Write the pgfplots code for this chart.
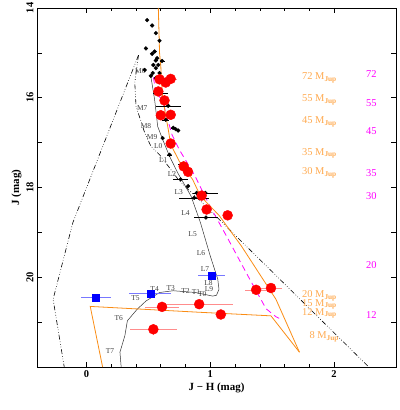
\documentclass[border=0pt]{standalone}
\usepackage{fontspec}
\setmainfont{Liberation Serif}
\usepackage{pgfplots}
\pgfplotsset{compat=1.18}
\usepackage{pgfplotstable}

\definecolor{isoorange}{RGB}{250,140,20}
\definecolor{masstext}{RGB}{255,170,80}
\definecolor{mag}{RGB}{255,0,255}
\definecolor{errred}{RGB}{255,140,140}
\definecolor{errblue}{RGB}{120,120,255}

% field objects (small black dots)
\pgfplotstableread{
x     y      ex
0.49  14.27  0
0.53  14.39  0
0.56  14.56  0
0.59  14.73  0
0.48  14.90  0
0.55  14.97  0
0.53  15.02  0
0.61  15.18  0.02
0.57  15.12  0
0.56  15.17  0
0.54  15.27  0
0.58  15.27  0
0.47  15.38  0
0.56  15.34  0
0.535 15.45  0
0.59  15.45  0
0.52  15.51  0
0.56  15.56  0
0.60  15.90  0.06
0.63  16.08  0.03
0.66  16.18  0.10
0.64  16.49  0.03
0.70  16.67  0.02
0.72  16.70  0
0.74  16.73  0
0.615 16.90  0
0.67  17.27  0.02
0.78  17.47  0.04
0.76  17.82  0.06
0.82  17.97  0
0.87  18.23  0.12
0.89  18.12  0
0.96  18.12  0.10
0.965 18.67  0.10
}\fielddots

% cluster candidates (red circles)
\pgfplotstableread{
x     y      ex    ey
0.59  15.59  0.03  0.03
0.64  15.66  0.03  0.03
0.68  15.58  0.05  0.03
0.58  15.86  0.03  0.03
0.63  16.06  0.03  0.03
0.60  16.39  0.03  0.03
0.68  16.38  0.03  0.03
0.68  17.02  0.03  0.03
0.785 17.53  0.03  0.03
0.82  17.65  0.03  0.03
0.93  18.18  0.03  0.03
0.97  18.49  0.03  0.03
1.14  18.62  0.03  0.03
1.37  20.28  0.09  0.08
1.49  20.24  0.09  0.08
0.91  20.60  0.27  0.10
0.61  20.66  0.14  0.10
1.085 20.83  0.03  0.10
0.54  21.16  0.19  0.12
}\reddots

% T dwarfs (blue squares)
\pgfplotstableread{
x     y      ex    ey
0.078 20.45  0.12  0.06
0.516 20.36  0.17  0.06
1.01  19.96  0.11  0.00
}\bluedots

\begin{document}
\begin{tikzpicture}
\begin{axis}[
    name=ax,
    width=359bp, height=359bp, scale only axis,
    xmin=-0.4, xmax=2.5,
    ymin=14, ymax=22, y dir=reverse,
    xtick={0,1,2}, minor x tick num=4,
    ytick={14,15,...,22},
    yticklabels={14,,16,,18,,20,,},
    tick align=inside,
    major tick length=5bp, minor tick length=3bp,
    axis line style={line width=0.8pt},
    every tick/.style={black, line width=0.6pt},
    /pgf/number format/assume math mode=true,
    ticklabel style={font=\bfseries\fontsize{10.5}{12}\selectfont},
    yticklabel style={rotate=90, anchor=south},
    xlabel={J − H (mag)},
    ylabel={J (mag)},
    label style={font=\bfseries\fontsize{11}{13}\selectfont},
    xlabel style={yshift=2bp},
    ylabel style={yshift=-2bp},
    clip=false,
]

% model lines
\addplot[black, line width=0.6pt,
  dash pattern=on 5pt off 2pt on 0.6pt off 2pt on 0.6pt off 2pt on 0.6pt off 2pt]
  coordinates {(0.42,15.05) (-0.11,18.78) (-0.27,20.49) (-0.18,22.0)};
\addplot[black, line width=0.6pt,
  dash pattern=on 5pt off 2pt on 0.6pt off 2pt on 0.6pt off 2pt on 0.6pt off 2pt]
  coordinates {(0.42,15.05) (0.40,15.45) (0.39,15.67) (0.40,16.19) (0.47,16.78)
   (0.52,17.08) (0.59,17.27) (0.67,17.56) (0.74,17.82) (0.82,18.04) (0.92,18.3) (2.28,22.0)};

\addplot[black!80, line width=0.5pt]
  coordinates {(0.52,15.53) (0.55,16.04) (0.575,16.64) (0.615,16.93) (0.67,17.3)
   (0.736,17.67) (0.844,18.19) (0.92,18.78) (1.0,19.53) (1.06,20.04) (1.07,20.27)
   (1.05,20.4) (1.02,20.42) (0.88,20.34) (0.70,20.30) (0.59,20.34) (0.48,20.53)
   (0.41,20.71) (0.33,20.97) (0.31,21.30) (0.27,21.67) (0.28,22.0)};

\addplot[mag, line width=0.8pt, dash pattern=on 6pt off 4pt]
  coordinates {(0.54,15.55) (0.56,15.86) (0.615,16.08) (0.69,16.82) (0.75,17.16)
   (0.87,17.71) (0.99,18.38) (1.13,19.08) (1.31,20.0) (1.45,20.7) (1.53,20.88) (1.56,20.92)};

\addplot[isoorange, line width=0.8pt]
  coordinates {(0.58,14.0) (0.585,14.5) (0.59,15.0) (0.60,15.3) (0.605,15.6)
   (0.616,16.0) (0.64,16.4) (0.66,16.7) (0.68,17.04) (0.75,17.42) (0.857,17.82)
   (0.92,18.19) (1.07,18.62) (1.25,19.3) (1.53,20.49) (1.72,21.67)};
\addplot[isoorange, line width=0.8pt]
  coordinates {(0.13,22.0) (0.03,20.65) (0.91,20.78) (1.49,20.86) (1.72,21.67)};

% data points
\addplot[only marks, mark=*, mark size=1.9pt, black,
  error bars/.cd, x dir=both, x explicit,
  error bar style={black, line width=0.4pt}, error mark=none]
  table[x=x, y=y, x error=ex] {\fielddots};

\addplot[only marks, mark=*, mark size=5pt, red,
  error bars/.cd, x dir=both, x explicit, y dir=both, y explicit,
  error bar style={errred, line width=0.6pt}, error mark=none]
  table[x=x, y=y, x error=ex, y error=ey] {\reddots};

\addplot[only marks, mark=square*, mark size=3.5pt, blue,
  error bars/.cd, x dir=both, x explicit, y dir=both, y explicit,
  error bar style={errblue, line width=0.6pt}, error mark=none]
  table[x=x, y=y, x error=ex, y error=ey] {\bluedots};

% spectral type labels
\begin{scope}[every node/.style={font=\fontsize{7.5}{8}\selectfont, text=black!75, inner sep=0pt}]
\node at (axis cs:0.435,15.41) {M6};
\node at (axis cs:0.45,16.23) {M7};
\node at (axis cs:0.48,16.64) {M8};
\node at (axis cs:0.53,16.87) {M9};
\node at (axis cs:0.58,17.08) {L0};
\node at (axis cs:0.62,17.38) {L1};
\node at (axis cs:0.69,17.71) {L2};
\node at (axis cs:0.745,18.10) {L3};
\node at (axis cs:0.80,18.58) {L4};
\node at (axis cs:0.857,19.03) {L5};
\node at (axis cs:0.925,19.47) {L6};
\node at (axis cs:0.957,19.82) {L7};
\node at (axis cs:0.985,20.13) {L8};
\node at (axis cs:0.99,20.27) {L9};
\node at (axis cs:0.935,20.37) {T0};
\node at (axis cs:0.885,20.33) {T1};
\node at (axis cs:0.80,20.30) {T2};
\node at (axis cs:0.68,20.23) {T3};
\node at (axis cs:0.55,20.27) {T4};
\node at (axis cs:0.395,20.47) {T5};
\node at (axis cs:0.26,20.90) {T6};
\node at (axis cs:0.19,21.64) {T7};
\end{scope}

% mass labels
\begin{scope}[every node/.style={font=\fontsize{10.5}{12}\selectfont, text=masstext, anchor=west, inner sep=0pt}]
\node at (axis cs:1.74,15.55) {72 M$_{\mathbf{Jup}}$};
\node at (axis cs:1.74,16.04) {55 M$_{\mathbf{Jup}}$};
\node at (axis cs:1.74,16.53) {45 M$_{\mathbf{Jup}}$};
\node at (axis cs:1.74,17.24) {35 M$_{\mathbf{Jup}}$};
\node at (axis cs:1.74,17.67) {30 M$_{\mathbf{Jup}}$};
\node at (axis cs:1.74,20.42) {20 M$_{\mathbf{Jup}}$};
\node at (axis cs:1.74,20.60) {15 M$_{\mathbf{Jup}}$};
\node at (axis cs:1.74,20.80) {12 M$_{\mathbf{Jup}}$};
\node at (axis cs:1.80,21.32) {8 M$_{\mathbf{Jup}}$};
\end{scope}
\begin{scope}[every node/.style={font=\fontsize{10.5}{12}\selectfont, text=mag, inner sep=0pt}]
\node at (axis cs:2.30,15.47) {72};
\node at (axis cs:2.30,16.13) {55};
\node at (axis cs:2.30,16.75) {45};
\node at (axis cs:2.30,17.67) {35};
\node at (axis cs:2.30,18.20) {30};
\node at (axis cs:2.30,19.73) {20};
\node at (axis cs:2.30,20.84) {12};
\end{scope}
\end{axis}
\pgfresetboundingbox
\path ([shift={(-37bp,-43bp)}]ax.south west) rectangle ([shift={(3bp,8bp)}]ax.north east);
\end{tikzpicture}
\end{document}
